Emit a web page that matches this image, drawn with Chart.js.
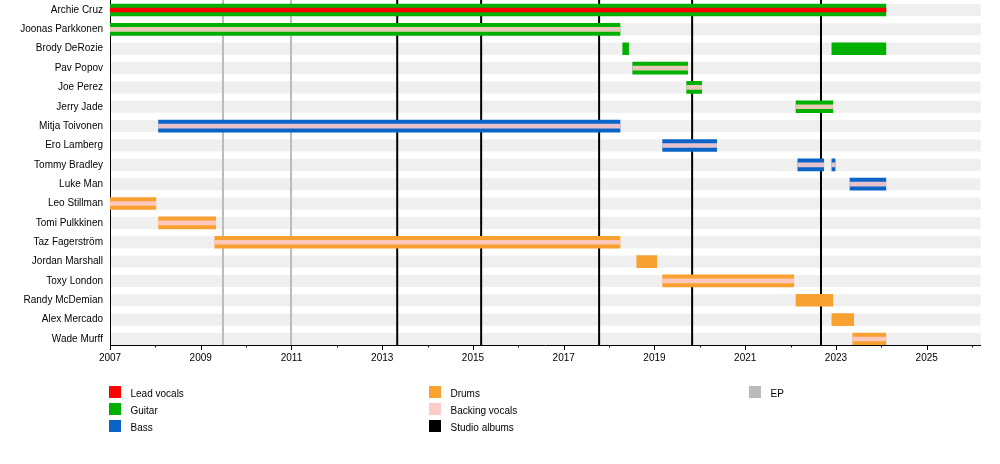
<!DOCTYPE html>
<html>
<head>
<meta charset="utf-8">
<title>Band members timeline</title>
<script src="https://cdn.jsdelivr.net/npm/chart.js@4.4.1/dist/chart.umd.min.js"></script>
<style>
  body { margin: 0; background: #fff; font-family: 'Liberation Sans', Arial, sans-serif; }
  #wrap { position: relative; width: 1000px; height: 464px; }
  #legend .item { position: absolute; font-size: 10px; color: #000; }
  #legend .swatch { position: absolute; left: 0; top: 0; width: 12px; height: 12px; }
  #legend .label { position: absolute; left: 22px; top: 2px; line-height: 12px; white-space: nowrap; }
</style>
</head>
<body>
<div id="wrap">
  <canvas id="chart"></canvas>
  <div id="legend"></div>
</div>
<script>
const members = ['Archie Cruz', 'Joonas Parkkonen', 'Brody DeRozie', 'Pav Popov', 'Joe Perez',
  'Jerry Jade', 'Mitja Toivonen', 'Ero Lamberg', 'Tommy Bradley', 'Luke Man', 'Leo Stillman',
  'Tomi Pulkkinen', 'Taz Fagerström', 'Jordan Marshall', 'Toxy London', 'Randy McDemian',
  'Alex Mercado', 'Wade Murff'];

// one entry per stint in the band
const spanMember = [0, 1, 2, 2, 3, 4, 5, 6, 7, 8, 8, 9, 10, 11, 12, 13, 14, 15, 16, 17];
const spanStart = [2007.0, 2007.0, 2018.30, 2022.91, 2018.52, 2019.71, 2022.12, 2008.07, 2019.18, 2022.16,
  2022.91, 2023.31, 2007.0, 2008.07, 2009.31, 2018.61, 2019.18, 2022.12, 2022.91, 2023.37];
const spanEnd = [2024.10, 2018.24, 2018.43, 2024.10, 2019.73, 2020.04, 2022.93, 2018.24, 2020.37, 2022.73,
  2022.98, 2024.10, 2008.01, 2009.33, 2018.24, 2019.05, 2022.07, 2022.93, 2023.39, 2024.10];
const spanRole = ['Guitar', 'Guitar', 'Guitar', 'Guitar', 'Guitar', 'Guitar', 'Guitar',
  'Bass', 'Bass', 'Bass', 'Bass', 'Bass',
  'Drums', 'Drums', 'Drums', 'Drums', 'Drums', 'Drums', 'Drums', 'Drums'];
const spanVocals = ['Lead vocals', 'Backing vocals', '', '', 'Backing vocals', 'Backing vocals', 'Backing vocals',
  'Backing vocals', 'Backing vocals', 'Backing vocals', 'Backing vocals', 'Backing vocals',
  'Backing vocals', 'Backing vocals', 'Backing vocals', '', 'Backing vocals', '', '', 'Backing vocals'];

const albumYears = [2013.33, 2015.18, 2017.78, 2019.83, 2022.67];
const epYears = [2009.49, 2010.99];

const yearMin = 2007;
const yearMax = 2026.19;

const legendLabels = ['Lead vocals', 'Guitar', 'Bass', 'Drums', 'Backing vocals', 'Studio albums', 'EP'];

const colors = {
  'Lead vocals': '#ff0000',
  'Guitar': '#00b000',
  'Bass': '#0a64c8',
  'Drums': '#f8a030',
  'Backing vocals': '#ffcccc',
  'Studio albums': '#000000',
  'EP': '#bbbbbb'
};

function spansFor(test) {
  const out = [];
  for (let i = 0; i < spanMember.length; i++) {
    if (test(i)) out.push({ x: [spanStart[i], spanEnd[i]], y: spanMember[i] });
  }
  return out;
}

function barSet(label, data, color, thickness) {
  return {
    label: label,
    data: data,
    backgroundColor: color,
    borderWidth: 0,
    barThickness: thickness,
    grouped: false
  };
}

// first dataset is drawn on top, so the vocal stripes go first
const datasets = [
  barSet('Lead vocals', spansFor(i => spanVocals[i] === 'Lead vocals'), colors['Lead vocals'], 4),
  barSet('Backing vocals', spansFor(i => spanVocals[i] === 'Backing vocals'), 'rgba(255,204,204,0.9)', 4),
  barSet('Guitar', spansFor(i => spanRole[i] === 'Guitar'), colors.Guitar, 12),
  barSet('Bass', spansFor(i => spanRole[i] === 'Bass'), colors.Bass, 12),
  barSet('Drums', spansFor(i => spanRole[i] === 'Drums'), colors.Drums, 12)
];

const backdrop = {
  id: 'backdrop',
  beforeDraw(chart) {
    const { ctx, chartArea: a, scales: { x, y } } = chart;
    ctx.save();
    ctx.fillStyle = '#efefef';
    members.forEach((m, i) => {
      const py = y.getPixelForValue(i);
      ctx.fillRect(a.left, py - 6, a.right - a.left, 12);
    });
    ctx.lineWidth = 2;
    [[epYears, colors.EP], [albumYears, colors['Studio albums']]].forEach(([years, col]) => {
      ctx.strokeStyle = col;
      years.forEach(yr => {
        const px = x.getPixelForValue(yr);
        ctx.beginPath();
        ctx.moveTo(px, a.top);
        ctx.lineTo(px, a.bottom);
        ctx.stroke();
      });
    });
    ctx.restore();
  },
  afterDraw(chart) {
    const { ctx, chartArea: a, scales: { x } } = chart;
    ctx.save();
    ctx.strokeStyle = '#000';
    ctx.lineWidth = 1;
    for (let yr = 2007; yr <= 2026; yr++) {
      const px = Math.round(x.getPixelForValue(yr)) + 0.5;
      const len = yr % 2 === 1 ? 5 : 2.5;
      ctx.beginPath();
      ctx.moveTo(px, a.bottom);
      ctx.lineTo(px, a.bottom + len);
      ctx.stroke();
    }
    ctx.restore();
  }
};

Chart.defaults.font.family = "'Liberation Sans', Arial, sans-serif";
Chart.defaults.font.size = 10;
Chart.defaults.color = '#000';

new Chart(document.getElementById('chart'), {
  type: 'bar',
  data: { datasets: datasets },
  options: {
    indexAxis: 'y',
    responsive: true,
    maintainAspectRatio: false,
    animation: false,
    layout: { padding: { left: 0, right: 19.3, top: 0, bottom: 0 } },
    plugins: { legend: { display: false }, tooltip: { enabled: false } },
    scales: {
      x: {
        type: 'linear',
        min: yearMin,
        max: yearMax,
        offset: false,
        grid: { display: true, drawOnChartArea: false, drawTicks: false },
        border: { display: true, color: '#000', width: 1 },
        ticks: {
          stepSize: 1,
          autoSkip: false,
          includeBounds: false,
          maxRotation: 0,
          padding: 7,
          callback: v => (v % 2 === 1 ? String(v) : '')
        },
        afterFit(scale) {
          scale.height = 119;
          scale.paddingLeft = 0;
          scale.paddingRight = 0;
        }
      },
      y: {
        type: 'linear',
        reverse: true,
        offset: false,
        min: -0.5167,
        max: 17.31,
        grid: { display: false, drawTicks: false, offset: false },
        border: { display: true, color: '#000', width: 1 },
        ticks: {
          padding: 7,
          autoSkip: false,
          callback: v => members[v]
        },
        afterBuildTicks(scale) {
          scale.ticks = members.map((m, i) => ({ value: i }));
        },
        afterFit(scale) {
          scale.width = 110;
          scale.paddingTop = 0;
          scale.paddingBottom = 0;
        }
      }
    }
  },
  plugins: [backdrop]
});

// legend: three columns, filled top to bottom
const legend = document.getElementById('legend');
legendLabels.forEach((name, i) => {
  const col = Math.floor(i / 3);
  const row = i % 3;
  const item = document.createElement('div');
  item.className = 'item';
  item.style.left = (108.5 + col * 320) + 'px';
  item.style.top = (386 + row * 17) + 'px';
  const sw = document.createElement('div');
  sw.className = 'swatch';
  sw.style.background = colors[name];
  const lab = document.createElement('span');
  lab.className = 'label';
  lab.textContent = name;
  item.appendChild(sw);
  item.appendChild(lab);
  legend.appendChild(item);
});
</script>
</body>
</html>
